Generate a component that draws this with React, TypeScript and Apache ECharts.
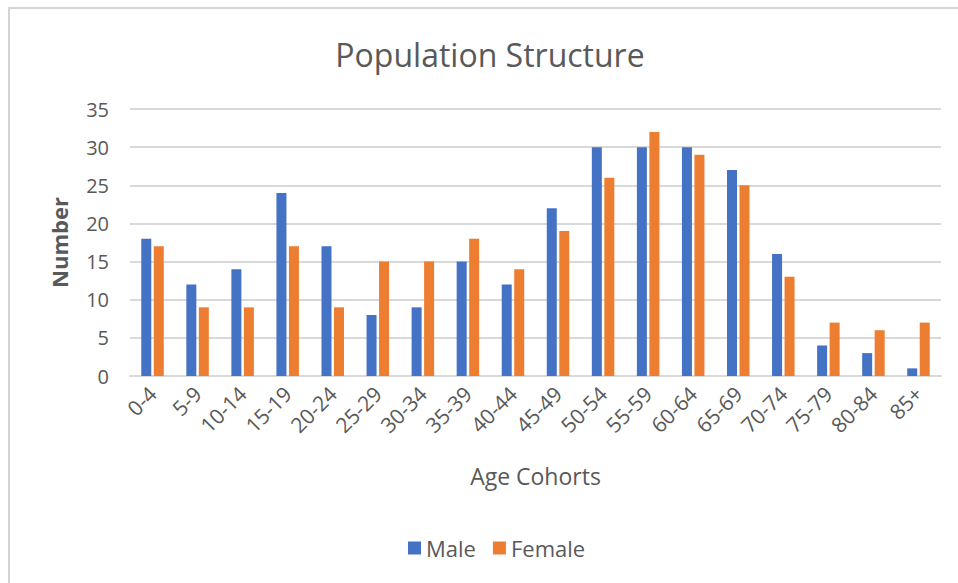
import React, { useEffect, useRef } from "react";
import * as echarts from "echarts";

const categories = ["0-4", "5-9", "10-14", "15-19", "20-24", "25-29", "30-34", "35-39", "40-44", "45-49", "50-54", "55-59", "60-64", "65-69", "70-74", "75-79", "80-84", "85+"];
const male = [18, 12, 14, 24, 17, 8, 9, 15, 12, 22, 30, 30, 30, 27, 16, 4, 3, 1];
const female = [17, 9, 9, 17, 9, 15, 15, 18, 14, 19, 26, 32, 29, 25, 13, 7, 6, 7];

const FONT = "'Open Sans', 'Noto Sans', sans-serif";
const TXT = "#595959";

export default function App() {
  const ref = useRef<HTMLDivElement>(null);
  useEffect(() => {
    document.body.style.margin = "0";
    const chart = echarts.init(ref.current!, null, { renderer: "svg" });
    chart.setOption({
      animation: false,
      backgroundColor: "#ffffff",
      textStyle: { fontFamily: FONT },
      graphic: [
        {
          type: "rect",
          shape: { x: 9, y: 8, width: 1200, height: 1200 },
          style: { fill: "none", stroke: "#d4d4d4", lineWidth: 2 },
          silent: true,
        },
        {
          type: "text",
          x: 490,
          y: 54,
          style: { text: "Population Structure", fill: TXT, font: `32px ${FONT}`, textAlign: "center", textVerticalAlign: "middle" },
        },
      ],
      legend: {
        left: 403,
        top: 532,
        itemWidth: 13,
        itemHeight: 13,
        itemGap: 17,
        icon: "rect",
        textStyle: { color: TXT, fontSize: 22, fontFamily: FONT },
        data: ["Male", "Female"],
      },
      grid: { left: 130, right: 17, top: 109, bottom: 207, containLabel: false },
      xAxis: {
        type: "category",
        data: categories,
        name: "Age Cohorts",
        nameLocation: "middle",
        nameGap: 88,
        nameTextStyle: { color: TXT, fontSize: 23, fontFamily: FONT },
        axisLine: { lineStyle: { color: "#d9d9d9", width: 2 } },
        axisTick: { show: false },
        axisLabel: { rotate: 45, color: TXT, fontSize: 21, fontFamily: FONT, margin: 14, interval: 0 },
      },
      yAxis: {
        type: "value",
        min: 0,
        max: 35,
        interval: 5,
        name: "Number",
        nameLocation: "middle",
        nameGap: 60,
        nameTextStyle: { color: TXT, fontSize: 22, fontWeight: "bold", fontFamily: FONT },
        axisLine: { show: false },
        axisTick: { show: false },
        axisLabel: { color: TXT, fontSize: 20, fontFamily: FONT, margin: 21 },
        splitLine: { lineStyle: { color: "#d9d9d9", width: 2 } },
      },
      series: [
        { name: "Male", type: "bar", data: male, itemStyle: { color: "#4472C4" }, barWidth: 10, barGap: "25%" },
        { name: "Female", type: "bar", data: female, itemStyle: { color: "#ED7D31" }, barWidth: 10, barGap: "25%" },
      ],
    });
    return () => chart.dispose();
  }, []);
  return <div ref={ref} style={{ position: "absolute", left: 0, top: 0, width: 958, height: 583 }} />;
}
